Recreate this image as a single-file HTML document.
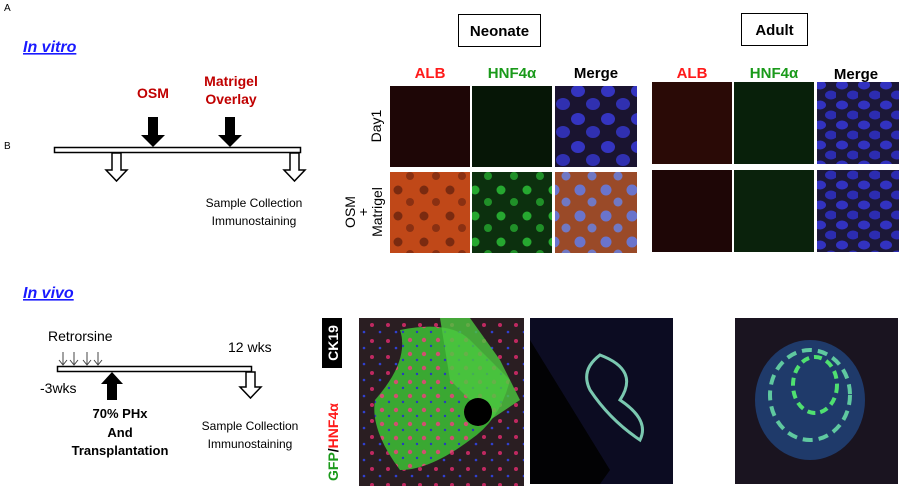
<!DOCTYPE html>
<html><head><meta charset="utf-8"><style>
body{margin:0;background:#fff;}
svg text{font-family:"Liberation Sans",Arial,sans-serif;}
</style></head><body>
<svg width="900" height="487" viewBox="0 0 900 487" xmlns="http://www.w3.org/2000/svg">
<defs>
<pattern id="nuc" width="30" height="28" patternUnits="userSpaceOnUse">
<rect width="30" height="28" fill="#1a1430"/>
<ellipse cx="8" cy="7" rx="7" ry="6" fill="#3434c0"/>
<ellipse cx="23" cy="20" rx="7" ry="6" fill="#3030b0"/>
</pattern>
<pattern id="nuc2" width="22" height="20" patternUnits="userSpaceOnUse">
<rect width="22" height="20" fill="#1c1838"/>
<ellipse cx="6" cy="5" rx="6" ry="4.5" fill="#3232c0"/>
<ellipse cx="17" cy="15" rx="6" ry="4.5" fill="#2c2cb0"/>
</pattern>
<pattern id="grn" width="26" height="26" patternUnits="userSpaceOnUse">
<rect width="26" height="26" fill="#0c300e"/>
<circle cx="7" cy="8" r="4.5" fill="#26a830"/>
<circle cx="20" cy="20" r="4" fill="#209028"/>
</pattern>
<pattern id="alb" width="26" height="26" patternUnits="userSpaceOnUse">
<rect width="26" height="26" fill="#c04818"/>
<circle cx="8" cy="8" r="4.5" fill="#7a2a10"/>
<circle cx="20" cy="20" r="4" fill="#8a3012"/>
</pattern>
<pattern id="mrg" width="26" height="26" patternUnits="userSpaceOnUse">
<rect width="26" height="26" fill="#9a4a28"/>
<circle cx="8" cy="8" r="5.5" fill="#6a74cc"/>
<circle cx="20" cy="20" r="4.5" fill="#7078c4"/>
</pattern>
<pattern id="tis" width="16" height="16" patternUnits="userSpaceOnUse">
<rect width="16" height="16" fill="#2a1e22"/>
<circle cx="4" cy="5" r="2" fill="#c02860"/>
<circle cx="12" cy="12" r="1.3" fill="#3040d0"/>
</pattern>
<pattern id="gtis" width="14" height="14" patternUnits="userSpaceOnUse">
<rect width="14" height="14" fill="#3aa832"/>
<circle cx="4" cy="4" r="2.2" fill="#d05070"/>
<circle cx="11" cy="10" r="1.2" fill="#2838c0"/>
</pattern>
</defs>

<text x="4" y="11" font-size="10">A</text>
<text x="4" y="149" font-size="10">B</text>

<!-- In vitro -->
<text x="23" y="52" font-size="16" font-weight="bold" font-style="italic" fill="#1a1aff" text-decoration="underline">In vitro</text>
<text x="153" y="98" font-size="14" font-weight="bold" fill="#c00000" text-anchor="middle">OSM</text>
<text x="231" y="86" font-size="14" font-weight="bold" fill="#c00000" text-anchor="middle">Matrigel</text>
<text x="231" y="104" font-size="14" font-weight="bold" fill="#c00000" text-anchor="middle">Overlay</text>
<polygon points="148,117 158,117 158,135 165,135 153,147 141,135 148,135" fill="#000"/>
<polygon points="225,117 235,117 235,135 242,135 230,147 218,135 225,135" fill="#000"/>
<rect x="54.5" y="147.5" width="246" height="5" fill="#fff" stroke="#000" stroke-width="1.5"/>
<polygon points="112,153 121,153 121,170 127,170 116.5,181 106,170 112,170" fill="#fff" stroke="#000" stroke-width="1.5"/>
<polygon points="290,153 299,153 299,170 305,170 294.5,181 284,170 290,170" fill="#fff" stroke="#000" stroke-width="1.5"/>
<text x="254" y="207" font-size="12" text-anchor="middle">Sample Collection</text>
<text x="254" y="225" font-size="12" text-anchor="middle">Immunostaining</text>

<!-- Neonate / Adult -->
<rect x="458.5" y="14.5" width="82" height="32" fill="#fff" stroke="#000"/>
<text x="499.5" y="36" font-size="15" font-weight="bold" text-anchor="middle">Neonate</text>
<rect x="741.5" y="13.5" width="66" height="32" fill="#fff" stroke="#000"/>
<text x="774.5" y="35" font-size="15" font-weight="bold" text-anchor="middle">Adult</text>
<g font-size="15" font-weight="bold" text-anchor="middle">
<text x="430" y="78" fill="#ff1a1a">ALB</text>
<text x="512" y="78" fill="#1a9a1a">HNF4α</text>
<text x="596" y="78">Merge</text>
<text x="692" y="78" fill="#ff1a1a">ALB</text>
<text x="774" y="78" fill="#1a9a1a">HNF4α</text>
<text x="856" y="79">Merge</text>
</g>
<text transform="translate(381,126) rotate(-90)" font-size="14" text-anchor="middle">Day1</text>
<text transform="translate(355,212) rotate(-90)" font-size="14" text-anchor="middle">OSM</text>
<text transform="translate(368,212) rotate(-90)" font-size="14" text-anchor="middle">+</text>
<text transform="translate(382,212) rotate(-90)" font-size="14" text-anchor="middle">Matrigel</text>

<rect x="390" y="86" width="80" height="81" fill="#1e0606"/>
<rect x="472" y="86" width="80" height="81" fill="#061606"/>
<rect x="555" y="86" width="82" height="81" fill="url(#nuc)"/>
<rect x="390" y="172" width="80" height="81" fill="url(#alb)"/>
<rect x="472" y="172" width="80" height="81" fill="url(#grn)"/>
<rect x="555" y="172" width="82" height="81" fill="url(#mrg)"/>

<rect x="652" y="82" width="80" height="82" fill="#2a0a06"/>
<rect x="734" y="82" width="80" height="82" fill="#08200a"/>
<rect x="817" y="82" width="82" height="82" fill="url(#nuc2)"/>
<rect x="652" y="170" width="80" height="82" fill="#1e0606"/>
<rect x="734" y="170" width="80" height="82" fill="#0a220c"/>
<rect x="817" y="170" width="82" height="82" fill="url(#nuc2)"/>

<!-- In vivo -->
<text x="23" y="298" font-size="16" font-weight="bold" font-style="italic" fill="#1a1aff" text-decoration="underline">In vivo</text>
<text x="48" y="341" font-size="14">Retrorsine</text>
<g stroke="#444" stroke-width="1" fill="none">
<path d="M63,352 V365 M59,360 L63,365 L67,360"/>
<path d="M74,352 V365 M70,360 L74,365 L78,360"/>
<path d="M87,352 V365 M83,360 L87,365 L91,360"/>
<path d="M98,352 V365 M94,360 L98,365 L102,360"/>
</g>
<text x="228" y="352" font-size="14">12 wks</text>
<rect x="57.5" y="366.5" width="194" height="5" fill="#fff" stroke="#000" stroke-width="1.5"/>
<text x="40" y="393" font-size="14">-3wks</text>
<polygon points="107,400 117,400 117,384 123,384 112,372 101,384 107,384" fill="#000"/>
<polygon points="246,372 255,372 255,387 261,387 250.5,398 240,387 246,387" fill="#fff" stroke="#000" stroke-width="1.5"/>
<g font-size="13" font-weight="bold" text-anchor="middle">
<text x="120" y="418">70% PHx</text>
<text x="120" y="437">And</text>
<text x="120" y="455">Transplantation</text>
</g>
<text x="250" y="430" font-size="12" text-anchor="middle">Sample Collection</text>
<text x="250" y="448" font-size="12" text-anchor="middle">Immunostaining</text>

<rect x="322" y="318" width="20" height="50" fill="#000"/>
<text transform="translate(338,343) rotate(-90)" font-size="14" font-weight="bold" fill="#fff" text-anchor="middle">CK19</text>
<text transform="translate(338,481) rotate(-90)" font-size="14" font-weight="bold"><tspan fill="#1a9a1a">GFP</tspan><tspan fill="#000">/</tspan><tspan fill="#ff1a1a">HNF4α</tspan></text>

<rect x="359" y="318" width="165" height="168" fill="url(#tis)"/>
<path d="M400,330 Q450,320 470,340 L510,380 Q500,420 470,440 Q430,470 400,470 Q370,430 375,400 Q410,360 400,330Z" fill="url(#gtis)"/>
<path d="M440,318 L470,318 L500,360 L520,400 L490,420 L450,380Z" fill="#4cc840" opacity="0.8"/>
<circle cx="478" cy="412" r="14" fill="#000"/>
<rect x="530" y="318" width="143" height="166" fill="#0c0c22"/>
<path d="M530,340 L610,470 L600,484 L530,484Z" fill="#020204"/>
<path d="M600,355 Q640,370 620,400 Q650,420 640,440 Q610,420 590,390 Q580,370 600,355Z" fill="none" stroke="#7ac8b0" stroke-width="3"/>
<rect x="735" y="318" width="163" height="166" fill="#1a1420"/>
<ellipse cx="810" cy="400" rx="55" ry="60" fill="#1f3a6a"/>
<ellipse cx="810" cy="395" rx="40" ry="45" fill="none" stroke="#5fc8a0" stroke-width="4" stroke-dasharray="10 6"/>
<ellipse cx="815" cy="385" rx="22" ry="28" fill="none" stroke="#4fe070" stroke-width="4" stroke-dasharray="8 5"/>
</svg>
</body></html>
